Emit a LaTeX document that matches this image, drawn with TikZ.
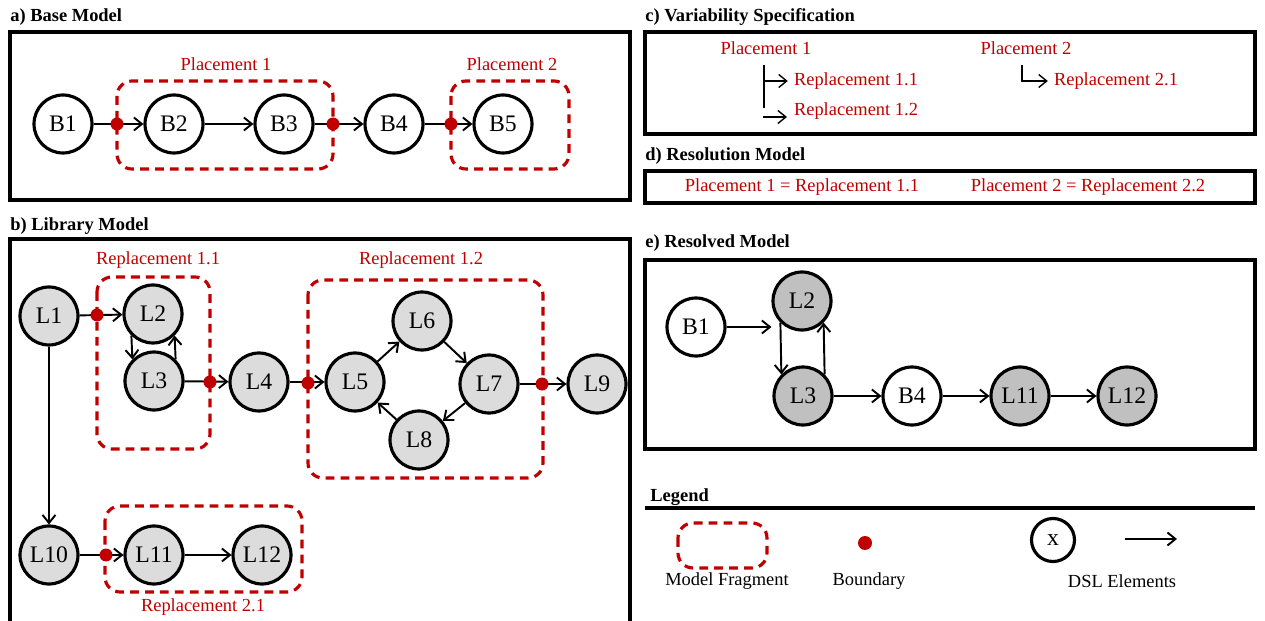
\documentclass[tikz,border=0pt]{standalone}
\usepackage{fontspec}
\setmainfont{Liberation Serif}
\usetikzlibrary{arrows.meta,shapes.geometric}

\definecolor{fragred}{RGB}{192,0,0}
\definecolor{libgray}{RGB}{220,220,220}
\definecolor{resgray}{RGB}{192,192,192}

\begin{document}
\begin{tikzpicture}[x=0.02cm, y=-0.02cm,
    panel/.style={draw, line width=1.8pt},
    title/.style={anchor=west, inner sep=0pt, font=\bfseries\fontsize{10.5}{12}\selectfont},
    frag/.style={draw=fragred, line width=1.8pt, dash pattern=on 5pt off 3.5pt, rounded corners=0.3cm},
    fraglabel/.style={text=fragred, font=\fontsize{10.5}{12}\selectfont},
    txt/.style={font=\fontsize{10.5}{12}\selectfont},
    elem/.style={draw, ellipse, line width=1.8pt, minimum width=1.16cm, minimum height=1.16cm, inner sep=0pt, font=\fontsize{13.5}{15}\selectfont},
    lib/.style={elem, fill=libgray},
    res/.style={elem, fill=resgray},
    bnd/.style={circle, fill=fragred, inner sep=0pt, minimum size=0.26cm},
    arr/.style={-{Straight Barb[length=1.6mm,width=2.6mm]}, line width=1.1pt}]
    \useasboundingbox (0,0) rectangle (1265,621);

    % a) base model
    \node[title] (ta) at (10,17) {a) Base Model};
    \draw[panel] (10,32) rectangle (630,200);
    \node[fraglabel] (pl1) at (226,64) {Placement 1};
    \node[fraglabel] (pl2) at (512,64) {Placement 2};
    \draw[frag] (117,81) rectangle (333,169);
    \draw[frag] (451,81) rectangle (569,169);
    \node[elem] (aB1) at (63,124) {B1};
    \node[elem] (aB2) at (174,124) {B2};
    \node[elem] (aB3) at (284,124) {B3};
    \node[elem] (aB4) at (394,124) {B4};
    \node[elem] (aB5) at (503,124) {B5};
    \draw[arr] (aB1) -- (aB2);
    \draw[arr] (aB2) -- (aB3);
    \draw[arr] (aB3) -- (aB4);
    \draw[arr] (aB4) -- (aB5);
    \node[bnd] (ad1) at (117,124) {};
    \node[bnd] (ad2) at (333,124) {};
    \node[bnd] (ad3) at (451,124) {};

    % b) library model
    \node[title] (tb) at (10,226) {b) Library Model};
    \draw[panel] (10,239) rectangle (630,660);
    \node[fraglabel] (rp11) at (158,260) {Replacement 1.1};
    \node[fraglabel] (rp12) at (421,260) {Replacement 1.2};
    \node[fraglabel] (rp21) at (203,607) {Replacement 2.1};
    \draw[frag] (97,277) rectangle (210,449);
    \draw[frag] (308,280) rectangle (543,478);
    \draw[frag] (105,506) rectangle (302,592);
    \node[lib] (L1) at (49,316) {L1};
    \node[lib] (L2) at (153,314) {L2};
    \node[lib] (L3) at (154,381) {L3};
    \node[lib] (L4) at (259,382) {L4};
    \node[lib] (L5) at (355,382) {L5};
    \node[lib] (L6) at (422,321) {L6};
    \node[lib] (L7) at (489,384) {L7};
    \node[lib] (L8) at (419,440) {L8};
    \node[lib] (L9) at (597,384) {L9};
    \node[lib] (L10) at (49,555) {L10};
    \node[lib] (L11) at (154,555) {L11};
    \node[lib] (L12) at (262,555) {L12};
    \draw[arr] (L1) -- (L2);
    \draw[arr] (L2.225) -- (L3.135);
    \draw[arr] (L3.45) -- (L2.315);
    \draw[arr] (L3) -- (L4);
    \draw[arr] (L4) -- (L5);
    \draw[arr] (L5) -- (L6);
    \draw[arr] (L6) -- (L7);
    \draw[arr] (L7) -- (L8);
    \draw[arr] (L8) -- (L5);
    \draw[arr] (L7) -- (L9);
    \draw[arr] (L1) -- (L10);
    \draw[arr] (L10) -- (L11);
    \draw[arr] (L11) -- (L12);
    \node[bnd] (bd1) at (97,315) {};
    \node[bnd] (bd2) at (210,382) {};
    \node[bnd] (bd3) at (308,383) {};
    \node[bnd] (bd4) at (542,384) {};
    \node[bnd] (bd5) at (106,555) {};

    % c) variability specification
    \node[title] (tc) at (645,17) {c) Variability Specification};
    \draw[panel] (645,32) rectangle (1255,134);
    \node[fraglabel] (vp1) at (766,48) {Placement 1};
    \node[fraglabel] (vp2) at (1026,48) {Placement 2};
    \node[fraglabel] (vr11) at (856,81) {Replacement 1.1};
    \node[fraglabel] (vr12) at (856,111) {Replacement 1.2};
    \node[fraglabel] (vr21) at (1116,81) {Replacement 2.1};
    \coordinate (ct) at (764,65);
    \coordinate (cb) at (764,108);
    \coordinate (c2s) at (763,117);
    \coordinate (c2e) at (787,117);
    \coordinate (dt) at (1022,65);
    \draw[line width=0.8pt] (ct) -- (cb);
    \draw[arr, line width=0.8pt] (ct |- vr11.west) -- (vr11.west);
    \draw[arr, line width=0.8pt] (c2s) -- (c2e);
    \draw[arr, line width=0.8pt] (dt) |- (vr21.west);

    % d) resolution model
    \node[title] (td) at (645,156) {d) Resolution Model};
    \draw[panel] (645,171) rectangle (1255,203);
    \node[fraglabel] (rs1) at (802,187) {Placement 1 = Replacement 1.1};
    \node[fraglabel] (rs2) at (1088,187) {Placement 2 = Replacement 2.2};

    % e) resolved model
    \node[title] (te) at (645,243) {e) Resolved Model};
    \draw[panel] (645,260) rectangle (1255,449);
    \node[elem] (eB1) at (696,327) {B1};
    \node[res] (eL2) at (802,301) {L2};
    \node[res] (eL3) at (803,396) {L3};
    \node[elem] (eB4) at (912,396) {B4};
    \node[res] (eL11) at (1020,396) {L11};
    \node[res] (eL12) at (1127,396) {L12};
    \draw[arr] (eB1.east) -- (eB1.east -| eL2.west);
    \draw[arr] (eL2.225) -- (eL3.135);
    \draw[arr] (eL3.45) -- (eL2.315);
    \draw[arr] (eL3) -- (eB4);
    \draw[arr] (eB4) -- (eL11);
    \draw[arr] (eL11) -- (eL12);

    % legend
    \node[title] (tl) at (650,497) {Legend};
    \coordinate (ll) at (645,508);
    \coordinate (lr) at (1255,508);
    \draw[line width=1.8pt] (ll) -- (lr);
    \draw[frag] (678,523) rectangle (767,568);
    \node[txt] (lfrag) at (727,581) {Model Fragment};
    \node[bnd, minimum size=0.28cm] (lbnd) at (865,543) {};
    \node[txt] (lbtxt) at (869,581) {Boundary};
    \node[elem, minimum width=0.86cm, minimum height=0.86cm] (lx) at (1053,540) {x};
    \coordinate (la) at (1125,539);
    \coordinate (lb) at (1177,539);
    \draw[arr] (la) -- (lb);
    \node[txt] (ldsl) at (1122,581) {DSL Elements};
\end{tikzpicture}
\end{document}
